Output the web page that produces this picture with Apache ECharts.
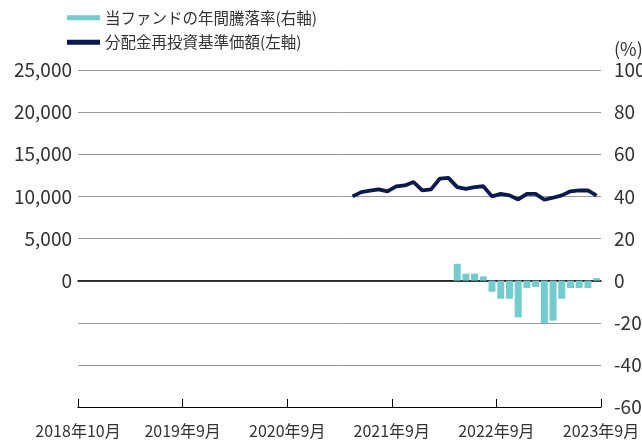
<!DOCTYPE html>
<html>
<head>
<meta charset="utf-8">
<script src="https://cdn.jsdelivr.net/npm/echarts@6/dist/echarts.min.js"></script>
<style>
  html, body { margin: 0; padding: 0; background: #fff; }
  #chart { width: 642px; height: 440px; }
</style>
</head>
<body>
<div id="chart"></div>
<script>
// months 2018年10月 .. 2023年9月
var months = [];
for (var y = 2018, m = 10; months.length < 60; m++) {
  if (m > 12) { m = 1; y++; }
  months.push(y + "年" + m + "月");
}
var xTickLabels = ["2018年10月", "2019年9月", "2020年9月", "2021年9月", "2022年9月", "2023年9月"];

var navName = "分配金再投資基準価額(左軸)";
var retName = "当ファンドの年間騰落率(右軸)";

// 2021年5月 .. 2023年9月
var navValues = [
  10000, 10500, 10670, 10830, 10600, 11190, 11300, 11700, 10700, 10830,
  12100, 12200, 11100, 10900, 11100, 11200, 10000, 10300, 10120, 9640,
  10300, 10300, 9600, 9840, 10120, 10600, 10700, 10700, 10100
];
// 2022年5月 .. 2023年9月
var retValues = [
  8.0, 3.3, 3.3, 2.0, -5.3, -8.6, -8.6, -17.4, -3.5, -3.0,
  -20.2, -19.0, -8.6, -3.5, -3.5, -3.5, 1.2
];

var navData = months.map(function (mm, i) {
  var k = i - (60 - navValues.length);
  return k >= 0 ? navValues[k] : null;
});
var retData = months.map(function (mm, i) {
  var k = i - (60 - retValues.length);
  return k >= 0 ? retValues[k] : null;
});

var font = "Noto Sans CJK JP";
var chart = echarts.init(document.getElementById("chart"));
chart.setOption({
  animation: false,
  textStyle: { fontFamily: font },
  grid: { left: 78, right: 41, top: 70, bottom: 33, outerBoundsMode: "none" },
  legend: {
    orient: "vertical",
    left: 62,
    top: 5,
    itemWidth: 33,
    itemHeight: 5,
    itemGap: 9,
    icon: "rect",
    data: [retName, navName],
    textStyle: { fontSize: 15.5, color: "#333", fontFamily: font }
  },
  xAxis: [
    {
      type: "category",
      data: months,
      boundaryGap: true,
      axisLine: { onZero: true, onZeroAxisIndex: 1, lineStyle: { color: "#000", width: 1.5 } },
      axisTick: { show: false },
      axisLabel: { show: false },
      splitLine: { show: false }
    },
    {
      type: "value",
      position: "bottom",
      min: 0,
      max: 60,
      interval: 12,
      axisLine: { onZero: false, lineStyle: { color: "#000", width: 1.2 } },
      axisTick: { show: true, inside: true, length: 8, lineStyle: { color: "#000" } },
      axisLabel: {
        margin: 16,
        fontSize: 16,
        color: "#333",
        formatter: function (v) { return xTickLabels[v / 12]; }
      },
      splitLine: { show: false }
    }
  ],
  yAxis: [
    {
      type: "value",
      min: -15000,
      max: 25000,
      interval: 5000,
      axisLine: { show: false },
      axisTick: { show: false },
      axisLabel: {
        margin: 6,
        fontSize: 19,
        color: "#333",
        formatter: function (v) { return v < 0 ? "" : v.toLocaleString("en-US"); }
      },
      splitLine: { show: true, lineStyle: { color: "#9a9a9a", width: 1 } }
    },
    {
      type: "value",
      position: "right",
      min: -60,
      max: 100,
      interval: 20,
      name: "(%)",
      nameLocation: "end",
      nameGap: 12,
      nameTextStyle: { fontSize: 18, color: "#333", align: "left", padding: [0, 0, 0, 13] },
      axisLine: { show: false },
      axisTick: { show: false },
      axisLabel: { margin: 13, fontSize: 19, color: "#333" },
      splitLine: { show: false }
    }
  ],
  series: [
    {
      name: retName,
      type: "bar",
      xAxisIndex: 0,
      yAxisIndex: 1,
      data: retData,
      barCategoryGap: "20%",
      itemStyle: { color: "#72cccd" }
    },
    {
      name: navName,
      type: "line",
      xAxisIndex: 0,
      yAxisIndex: 0,
      data: navData,
      showSymbol: false,
      symbol: "none",
      lineStyle: { color: "#0b1a4e", width: 3.8 },
      itemStyle: { color: "#0b1a4e" }
    }
  ]
});
</script>
</body>
</html>
